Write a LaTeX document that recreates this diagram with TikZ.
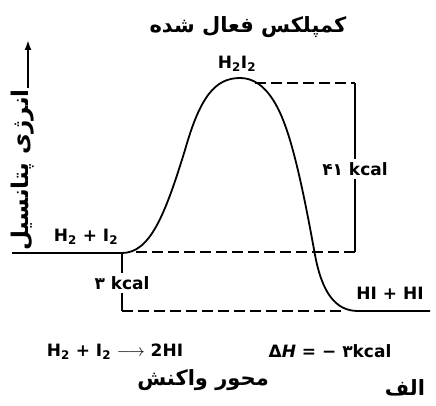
\documentclass[tikz,border=0pt]{standalone}
\usepackage{fontspec}
\setmainfont{DejaVu Sans}
\newfontfamily\fa[Script=Arabic]{DejaVu Sans}
\TeXXeTstate=1
\usetikzlibrary{positioning,arrows.meta}

\begin{document}
\begin{tikzpicture}[x=1pt,y=-1pt,
  prof/.style={draw=black,line width=1.8pt},
  guide/.style={draw=black,line width=1.8pt,dash pattern=on 11pt off 5pt},
  lat/.style={font=\bfseries\fontsize{17}{19}\selectfont,inner sep=1pt},
  per/.style={font=\fa\bfseries\fontsize{21}{24}\selectfont,inner sep=1pt},
  gap/.style={lat,fill=white,inner sep=3pt}]
  \useasboundingbox (0,0) rectangle (436,406);
  \node[per] (title) at (248,27) {\beginR کمپلکس فعال شده\endR};
  \node[lat] (cplx) at (237,64) {H\textsubscript{2}I\textsubscript{2}};
  \node[per,font=\fa\bfseries\fontsize{23}{26}\selectfont,rotate=90,anchor=base east] (ylab) at (28,88) {\beginR انرژی پتانسیل\endR};
  \coordinate (ytop) at (0,40);
  \coordinate (ytip) at (ylab.base east |- ytop);
  \draw[prof,-{Latex[length=10pt,width=7pt]}] (ylab.base east) -- (ytip);
  \node[lat] (react) at (86,237) {H\textsubscript{2} + I\textsubscript{2}};
  \node[lat] (prod) at (390,293) {HI + HI};
  \node[gap] (k41) at (355,169) {{\fa ۴۱} kcal};
  \node[gap] (k3) at (122,283) {{\fa ۳} kcal};
  \coordinate (r0) at (12,253);
  \coordinate (r1) at (122,253);
  \coordinate (ts) at (240,78);
  \coordinate (p1) at (358,311);
  \coordinate (p0) at (430,311);
  \draw[prof] (r0) -- (r1) .. controls (150,253) and (165,215) .. (185,150)
    .. controls (200,97) and (215,78) .. (ts)
    .. controls (262,78) and (276,100) .. (285,125)
    .. controls (296,155) and (306,205) .. (315,255)
    .. controls (322,292) and (335,311) .. (p1) -- (p0);
  \coordinate (ts41) at (255,83);
  \coordinate (c41t) at (355,83);
  \coordinate (c41b) at (355,252);
  \coordinate (rr) at (132,252);
  \draw[guide] (ts41) -- (c41t);
  \draw[prof] (c41t) -- (k41);
  \draw[prof] (k41) -- (c41b);
  \draw[guide] (c41b) -- (rr);
  \coordinate (d3b) at (122,311);
  \coordinate (pp) at (345,311);
  \draw[prof] (r1) -- (k3);
  \draw[prof] (k3) -- (d3b);
  \draw[guide] (d3b) -- (pp);
  \node[lat] (eqn) at (115,352) {H\textsubscript{2} + I\textsubscript{2} $\longrightarrow$ 2HI};
  \node[lat] (dh) at (330,351) {Δ\textit{H} = − {\fa ۳}kcal};
  \node[per] (axis) at (203,380) {\beginR محور واکنش\endR};
  \node[per] (part) at (405,388) {\beginR الف\endR};
\end{tikzpicture}
\end{document}
